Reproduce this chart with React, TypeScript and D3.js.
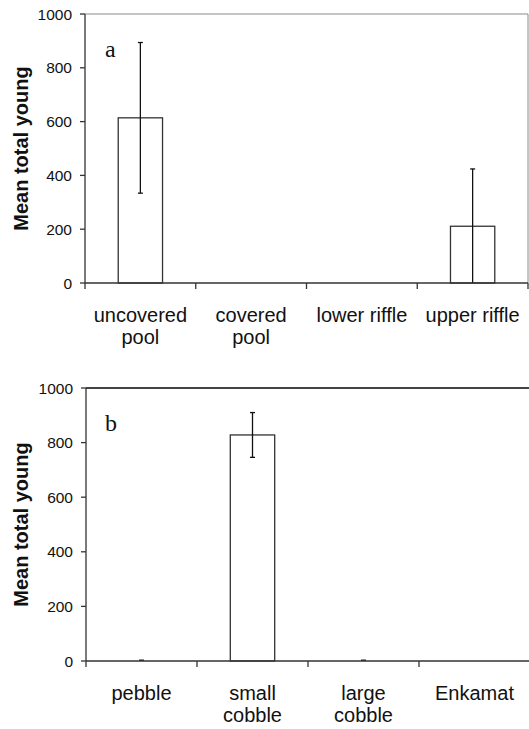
import React from "react";
import * as d3 from "d3";

const habitats = ["uncovered pool", "covered pool", "lower riffle", "upper riffle"];
const habitatMeans = [614, 0, 0, 211];
const habitatErr = [280, 0, 0, 213];

const substrates = ["pebble", "small cobble", "large cobble", "Enkamat"];
const substrateMeans = [0, 828, 0, 0];
const substrateErr = [3, 82, 3, 0];

const yTicks = [0, 200, 400, 600, 800, 1000];

const font = "Liberation Sans, Arial, sans-serif";

// two-line category labels as in the original
const splitLabel = (s: string) => {
  if (s === "upper riffle" || s === "lower riffle") return [s];
  const parts = s.split(" ");
  return parts.length > 1 ? [parts[0], parts.slice(1).join(" ")] : [s];
};

interface PanelProps {
  cats: string[];
  means: number[];
  errs: number[];
  letter: string;
  x0: number;
  x1: number;
  yTop: number;
  yBottom: number;
  boxed: boolean;
}

function Panel({ cats, means, errs, letter, x0, x1, yTop, yBottom, boxed }: PanelProps) {
  const x = d3.scaleBand<string>().domain(cats).range([x0, x1]).paddingInner(0.6).paddingOuter(0.3);
  const y = d3.scaleLinear().domain([0, 1000]).range([yBottom, yTop]);
  const step = x.step();
  const cap = 2.5;

  return (
    <g>
      {/* frame */}
      {boxed ? (
        <>
          <line x1={x0} x2={x1} y1={yTop} y2={yTop} stroke="#8a8a8a" strokeWidth={1} />
          <line x1={x1} x2={x1} y1={yTop} y2={yBottom} stroke="#8a8a8a" strokeWidth={1} />
        </>
      ) : (
        <line x1={x0} x2={x1} y1={yTop} y2={yTop} stroke="#444" strokeWidth={2} />
      )}

      {/* bars */}
      {cats.map((c, i) =>
        means[i] > 0 ? (
          <rect
            key={c}
            x={x(c)}
            y={y(means[i])}
            width={x.bandwidth()}
            height={y(0) - y(means[i])}
            fill="#fff"
            stroke="#333"
            strokeWidth={1.3}
          />
        ) : null
      )}

      {/* error bars */}
      {cats.map((c, i) => {
        if (errs[i] <= 0) return null;
        const cx = (x(c) as number) + x.bandwidth() / 2;
        const hi = y(Math.min(1000, means[i] + errs[i]));
        const lo = y(Math.max(0, means[i] - errs[i]));
        return (
          <g key={c} stroke="#111" strokeWidth={1.3}>
            <line x1={cx} x2={cx} y1={hi} y2={lo} />
            <line x1={cx - cap} x2={cx + cap} y1={hi} y2={hi} />
            {means[i] - errs[i] > 0 && <line x1={cx - cap} x2={cx + cap} y1={lo} y2={lo} />}
          </g>
        );
      })}

      {/* y axis */}
      <line x1={x0} x2={x0} y1={yTop} y2={yBottom} stroke="#333" strokeWidth={1.3} />
      {yTicks.map((t) => (
        <g key={t}>
          <line x1={x0 - 5} x2={x0} y1={y(t)} y2={y(t)} stroke="#333" strokeWidth={1.3} />
          <text x={x0 - 13} y={y(t)} dy="0.36em" textAnchor="end" fontFamily={font} fontSize={15.5} fill="#111">
            {t}
          </text>
        </g>
      ))}
      <text
        transform={`translate(28,${(yTop + yBottom) / 2}) rotate(-90)`}
        textAnchor="middle"
        fontFamily={font}
        fontWeight="bold"
        fontSize={20}
        fill="#111"
      >
        Mean total young
      </text>

      {/* x axis */}
      <line x1={x0} x2={x1} y1={yBottom} y2={yBottom} stroke="#333" strokeWidth={1.3} />
      {d3.range(cats.length + 1).map((i) => (
        <line key={i} x1={x0 + i * step} x2={x0 + i * step} y1={yBottom} y2={yBottom + 6} stroke="#333" strokeWidth={1.3} />
      ))}
      {cats.map((c) => {
        const cx = (x(c) as number) + x.bandwidth() / 2;
        return (
          <text key={c} x={cx} y={yBottom + 39} textAnchor="middle" fontFamily={font} fontSize={20} fill="#111">
            {splitLabel(c).map((s, k) => (
              <tspan key={k} x={cx} dy={k === 0 ? 0 : 22}>
                {s}
              </tspan>
            ))}
          </text>
        );
      })}

      <text x={105} y={yTop + 43} fontFamily="Liberation Serif, Times New Roman, serif" fontSize={24} fill="#111">
        {letter}
      </text>
    </g>
  );
}

export default function App() {
  return (
    <svg
      width={529}
      height={729}
      style={{ position: "absolute", left: 0, top: 0, background: "#fff" }}
    >
      <rect width={529} height={729} fill="#fff" />
      <Panel cats={habitats} means={habitatMeans} errs={habitatErr} letter="a" x0={85} x1={528} yTop={14} yBottom={283} boxed />
      <Panel cats={substrates} means={substrateMeans} errs={substrateErr} letter="b" x0={86} x1={530} yTop={388} yBottom={661} boxed={false} />
    </svg>
  );
}
